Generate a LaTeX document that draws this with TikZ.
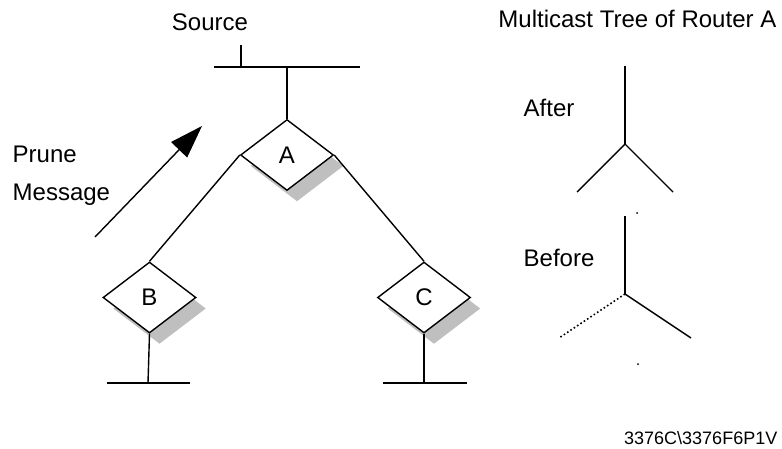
\documentclass[tikz,border=0pt]{standalone}
\usepackage{fontspec}
\setmainfont{Liberation Sans}
\usetikzlibrary{shapes.geometric,shadows,arrows.meta}

\begin{document}
\begin{tikzpicture}[x=1pt,y=-1pt,line width=1.4pt]
\tikzstyle{every node}=[font=\fontsize{24pt}{38pt}\selectfont]
\tikzstyle{router}=[draw, fill=white, shape=diamond, inner sep=0pt, minimum width=93pt, minimum height=71pt, drop shadow={fill=black!25, opacity=1, shadow xshift=10pt, shadow yshift=-11pt}]
\tikzstyle{plain}=[inner sep=0pt]
\useasboundingbox (0,0) rectangle (782,448);
% labels
\node [] (src) at (210,22) {Source};
\node [plain, anchor=east] (title) at (777,18.5) {Multicast Tree of Router A};
\node [plain, anchor=north west, align=left] (prune) at (12,145) {Prune\\Message};
\node [plain, anchor=west] (after) at (523,108) {After};
\node [plain, anchor=west] (before) at (523,258) {Before};
\node [plain, anchor=east, font=\fontsize{18pt}{22pt}\selectfont] (fig) at (778,438) {3376C\textbackslash3376F6P1V};
% routers
\node [router] (A) at (287,155) {A};
\node [router] (B) at (149.5,297.5) {B};
\node [router] (C) at (424,297.5) {C};
% source lan
\coordinate (barL) at (214,67);
\coordinate (barR) at (360,67);
\coordinate (tick) at (241,45);
\coordinate (tapA) at (287,67);
\draw [] (barL) -- (barR);
\draw [] (tick) -- (tick |- barL);
\draw [] (tapA) -- (A.north);
\draw [] (A.west) -- (B.north);
\draw [] (A.east) -- (C.north);
% leaf lans
\coordinate (tapB) at (148,383);
\coordinate (lanBL) at (107,383);
\coordinate (lanBR) at (190,383);
\coordinate (tapC) at (424,383);
\coordinate (lanCL) at (383,383);
\coordinate (lanCR) at (467,383);
\draw [] (B.south) -- (tapB);
\draw [] (lanBL) -- (lanBR);
\draw [] (C.south) -- (tapC);
\draw [] (lanCL) -- (lanCR);
% prune message
\coordinate (pmStart) at (95,237);
\coordinate (pmEnd) at (202,126);
\draw [-{Triangle[length=33pt,width=22pt]}] (pmStart) -- (pmEnd);
% tree after
\coordinate (aj) at (625,144);
\coordinate (atop) at (625,66);
\coordinate (aleft) at (577,192);
\coordinate (aright) at (673,192);
\draw [] (atop) -- (aj);
\draw [] (aj) -- (aleft);
\draw [] (aj) -- (aright);
% tree before
\coordinate (bj) at (625,294);
\coordinate (btop) at (625,216);
\coordinate (bleft) at (559,338);
\coordinate (bright) at (691,338);
\draw [] (btop) -- (bj);
\draw [line width=1.6pt, dash pattern=on 1.6pt off 2.4pt] (bj) -- (bleft);
\draw [] (bj) -- (bright);
\fill (637,213) circle (1pt);
\fill (638,364) circle (1pt);
\end{tikzpicture}
\end{document}
